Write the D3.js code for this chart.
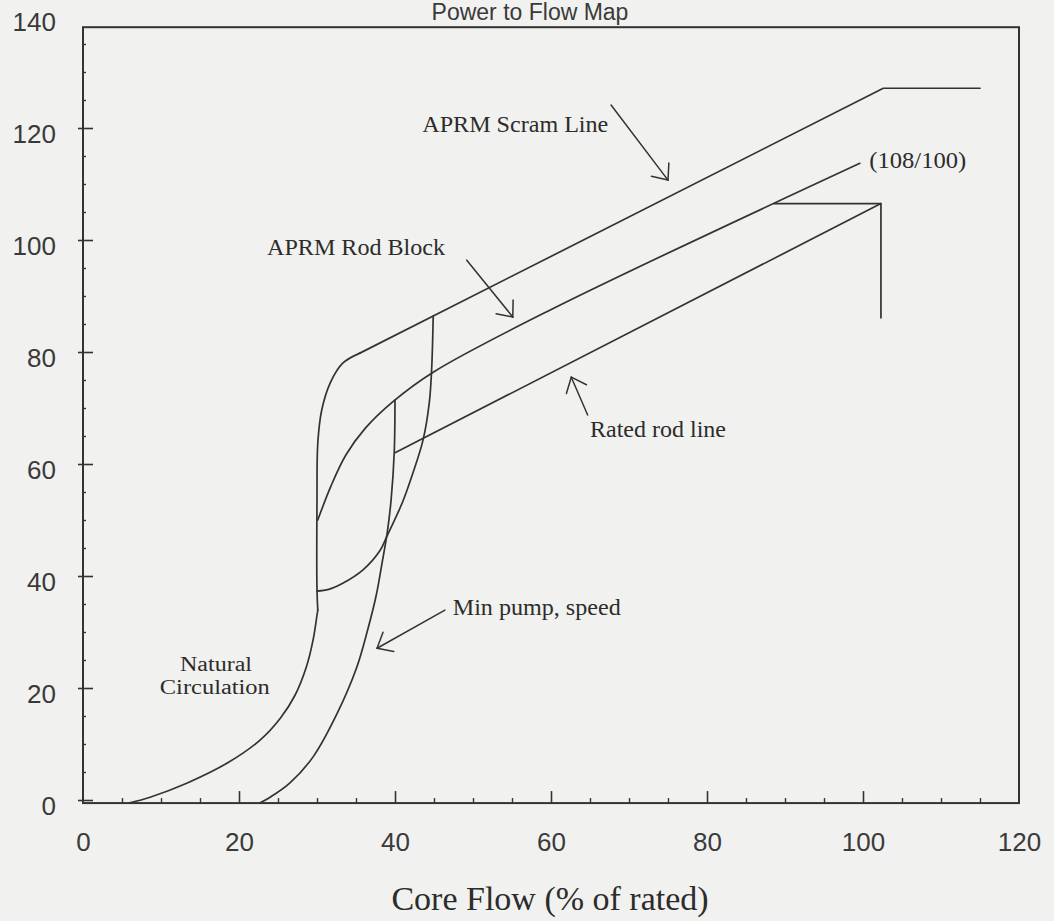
<!DOCTYPE html>
<html>
<head>
<meta charset="utf-8">
<script src="https://cdn.jsdelivr.net/npm/d3@7"></script>
<style>
  html, body { margin: 0; padding: 0; background: #f1f1ef; }
  svg { display: block; }
</style>
</head>
<body>
<svg id="chart" width="1054" height="921"></svg>
<script>
// Power (% of rated) against core flow (% of rated): operating boundaries.
// Each series is a list of [core flow, power] points.
const scramKnee = [[30.1, 33.9], [30.0, 37.5], [30.0, 53.6], [30.1, 63.7], [30.6, 69.6], [31.7, 74.5], [33.3, 78.0], [35.5, 79.8]];
const scramLine = [[35.5, 79.8], [102.6, 127.1], [115.0, 127.1]];
const naturalCirculation = [[6.0, -0.5], [8.6, 0.5], [13.3, 3.0], [18.5, 6.6], [22.7, 10.7], [25.3, 14.6], [27.2, 18.75], [28.6, 23.6], [29.5, 28.6], [30.0, 33.0], [30.1, 33.9]];
const minPumpSpeed = [[22.7, -0.5], [24.0, 0.5], [26.5, 3.0], [29.5, 7.7], [32.6, 15.5], [35.1, 23.7], [36.5, 30.4], [37.6, 36.6], [38.3, 42.0], [39.0, 47.7], [39.5, 53.6], [39.9, 62.0], [40.0, 71.4]];
const flowControlLine = [[30.0, 37.3], [31.5, 37.6], [33.3, 38.7], [35.9, 41.1], [38.1, 44.6], [39.0, 47.2], [41.0, 53.3], [42.3, 58.4], [43.6, 64.3], [44.4, 71.0], [44.7, 77.0], [44.9, 86.4]];
const rodBlockLine = [[30.1, 50.0], [31.8, 56.1], [33.7, 61.6], [36.2, 66.4], [39.7, 71.1], [44.9, 76.4], [59.9, 87.5], [99.6, 113.7]];
const ratedRodLine = [[40.0, 62.0], [102.3, 106.5]];
const flowLimit = [[88.6, 106.5], [102.3, 106.5], [102.3, 86.1]];

// Axis ticks
const xMajorTicks = [0, 20, 40, 60, 80, 100, 120];
const xMinorTicks = [5, 10, 15, 25, 30, 35, 45, 50, 55, 65, 70, 75, 85, 90, 95, 105, 110, 115];
const yMajorTicks = [0, 20, 40, 60, 80, 100, 120, 140];
const yMinorTicks = [5, 10, 15, 25, 30, 35, 45, 50, 55, 65, 70, 75, 85, 90, 95, 105, 110, 115, 125, 130, 135];

// Callouts: text anchor [flow, power], label, leader line start and arrow tip
const calloutLabels = ["APRM Scram Line", "APRM Rod Block", "(108/100)", "Rated rod line", "Min pump, speed"];
const calloutAnchors = [[43.5, 119.3], [23.6, 97.3], [100.8, 112.9], [65.0, 64.8], [47.4, 33.0]];
const calloutWidths = [186, 178, 97, 136, 168];
const arrowStarts = [[67.7, 124.1], [49.2, 96.4], null, [64.7, 68.75], [46.4, 33.9]];
const arrowTips = [[75.0, 110.7], [55.1, 86.25], null, [62.6, 75.5], [37.7, 27.1]];

const regionLabel = ["Natural", "Circulation"];
const regionAnchors = [[17.05, 23.0], [16.9, 18.9]];
const regionWidths = [72, 110];

const title = "Power to Flow Map";
const xTitle = "Core Flow (% of rated)";

const ink = "#333";
const svg = d3.select("#chart");

const x = d3.scaleLinear().domain([0, 120]).range([83, 1019]);
const y = d3.scaleLinear().domain([0, 140]).range([800, 16]);

// Plot frame
svg.append("rect")
  .attr("x", x(0)).attr("y", y(138))
  .attr("width", x(120) - x(0)).attr("height", y(-0.55) - y(138))
  .attr("fill", "none").attr("stroke", ink).attr("stroke-width", 2);

// X ticks point up into the plot from the bottom edge
const xBase = y(-0.55);
svg.append("g").attr("transform", `translate(0,${xBase})`)
  .call(d3.axisTop(x).tickValues(xMajorTicks.filter(v => v > 0 && v < 120)).tickSize(12).tickFormat(""))
  .call(g => g.select(".domain").remove())
  .call(g => g.selectAll("line").attr("stroke", ink).attr("stroke-width", 1.6));
svg.append("g").attr("transform", `translate(0,${xBase})`)
  .call(d3.axisTop(x).tickValues(xMinorTicks).tickSize(5).tickFormat(""))
  .call(g => g.select(".domain").remove())
  .call(g => g.selectAll("line").attr("stroke", ink).attr("stroke-width", 1.4));
svg.append("g").attr("transform", `translate(0,${xBase})`)
  .call(d3.axisBottom(x).tickValues(xMajorTicks).tickSize(0).tickPadding(29))
  .call(g => g.select(".domain").remove())
  .call(g => g.selectAll("text")
    .attr("font-family", "'Liberation Sans', Arial, sans-serif")
    .attr("font-size", 26).attr("fill", "#3a3a3a"));

// Y ticks: majors cross the left edge, minors are short inward marks
svg.append("g").attr("transform", `translate(${x(0)},0)`)
  .call(d3.axisLeft(y).tickValues(yMajorTicks).tickSize(5).tickPadding(22))
  .call(g => g.select(".domain").remove())
  .call(g => g.selectAll("line").attr("stroke", ink).attr("stroke-width", 1.6)
    .attr("display", d => d > 130 ? "none" : null))
  .call(g => g.selectAll("text")
    .attr("dy", "0.55em")
    .attr("font-family", "'Liberation Sans', Arial, sans-serif")
    .attr("font-size", 26).attr("fill", "#3a3a3a"));
svg.append("g").attr("transform", `translate(${x(0)},0)`)
  .call(d3.axisRight(y).tickValues(yMajorTicks.filter(v => v < 130)).tickSize(10).tickFormat(""))
  .call(g => g.select(".domain").remove())
  .call(g => g.selectAll("line").attr("stroke", ink).attr("stroke-width", 1.6));
svg.append("g").attr("transform", `translate(${x(0)},0)`)
  .call(d3.axisRight(y).tickValues(yMinorTicks).tickSize(3).tickFormat(""))
  .call(g => g.select(".domain").remove())
  .call(g => g.selectAll("line").attr("stroke", ink).attr("stroke-width", 1.4));

// Boundary lines
const smooth = d3.line().x(d => x(d[0])).y(d => y(d[1])).curve(d3.curveCatmullRom.alpha(0.5));
const straight = d3.line().x(d => x(d[0])).y(d => y(d[1]));

const curves = svg.append("g").attr("fill", "none").attr("stroke", ink)
  .attr("stroke-width", 1.7).attr("stroke-linejoin", "round").attr("stroke-linecap", "round");
[naturalCirculation, scramKnee, minPumpSpeed, flowControlLine, rodBlockLine].forEach(s =>
  curves.append("path").attr("d", smooth(s)));
[scramLine, ratedRodLine, flowLimit].forEach(s =>
  curves.append("path").attr("d", straight(s)));

// Callout text and arrows
const serif = "'Liberation Serif', 'Times New Roman', serif";
const notes = svg.append("g").attr("fill", "#2c2c2c")
  .attr("font-family", serif).attr("font-size", 24);
calloutLabels.forEach((t, i) => {
  notes.append("text")
    .attr("x", x(calloutAnchors[i][0])).attr("y", y(calloutAnchors[i][1]))
    .attr("textLength", calloutWidths[i]).attr("lengthAdjust", "spacingAndGlyphs")
    .text(t);
});
regionLabel.forEach((t, i) => {
  notes.append("text")
    .attr("x", x(regionAnchors[i][0])).attr("y", y(regionAnchors[i][1]))
    .attr("text-anchor", "middle").attr("font-size", 20)
    .attr("textLength", regionWidths[i]).attr("lengthAdjust", "spacingAndGlyphs")
    .text(t);
});

const arrows = svg.append("g").attr("fill", "none").attr("stroke", ink)
  .attr("stroke-width", 1.5).attr("stroke-linecap", "round");
arrowStarts.forEach((s, i) => {
  if (!s) return;
  const t = arrowTips[i];
  const x0 = x(s[0]), y0 = y(s[1]), x1 = x(t[0]), y1 = y(t[1]);
  arrows.append("line").attr("x1", x0).attr("y1", y0).attr("x2", x1).attr("y2", y1);
  const back = Math.atan2(y0 - y1, x0 - x1);
  [-0.7, 0.7].forEach(da => {
    arrows.append("line")
      .attr("x1", x1).attr("y1", y1)
      .attr("x2", x1 + 17 * Math.cos(back + da))
      .attr("y2", y1 + 17 * Math.sin(back + da));
  });
});

// Titles
svg.append("text")
  .attr("x", 530).attr("y", 20).attr("text-anchor", "middle")
  .attr("font-family", "'Liberation Sans', Arial, sans-serif")
  .attr("font-size", 23).attr("fill", "#3a3a3a")
  .text(title);
svg.append("text")
  .attr("x", 550).attr("y", 910).attr("text-anchor", "middle")
  .attr("font-family", serif).attr("font-size", 34).attr("fill", "#2c2c2c")
  .text(xTitle);
</script>
</body>
</html>
